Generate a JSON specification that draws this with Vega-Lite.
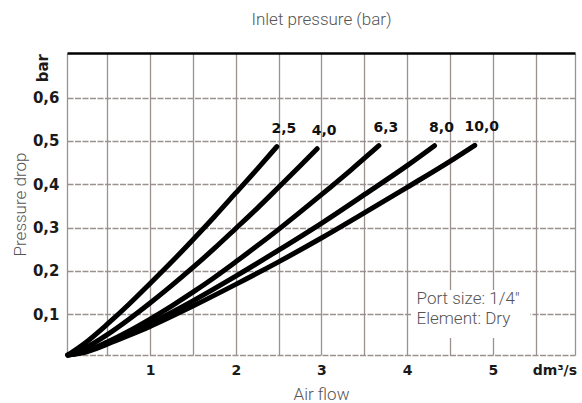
{
  "$schema": "https://vega.github.io/schema/vega-lite/v6.json",
  "width": 508,
  "height": 302,
  "autosize": {"type": "none"},
  "padding": {"left": 67, "top": 53, "right": 7, "bottom": 48},
  "background": "white",
  "config": {"view": {"stroke": null}, "axis": {"ticks": false, "domain": false}},
  "datasets": {
    "curves": [
      {"inlet": "2,5", "airflow": 0.04, "drop": 0.006},
      {"inlet": "2,5", "airflow": 0.25, "drop": 0.035},
      {"inlet": "2,5", "airflow": 0.5, "drop": 0.077},
      {"inlet": "2,5", "airflow": 0.75, "drop": 0.1225},
      {"inlet": "2,5", "airflow": 1.0, "drop": 0.171},
      {"inlet": "2,5", "airflow": 1.25, "drop": 0.2205},
      {"inlet": "2,5", "airflow": 1.5, "drop": 0.272},
      {"inlet": "2,5", "airflow": 1.75, "drop": 0.325},
      {"inlet": "2,5", "airflow": 2.0, "drop": 0.38},
      {"inlet": "2,5", "airflow": 2.25, "drop": 0.435},
      {"inlet": "2,5", "airflow": 2.48, "drop": 0.487},
      {"inlet": "4,0", "airflow": 0.04, "drop": 0.006},
      {"inlet": "4,0", "airflow": 0.25, "drop": 0.023},
      {"inlet": "4,0", "airflow": 0.5, "drop": 0.053},
      {"inlet": "4,0", "airflow": 0.75, "drop": 0.088},
      {"inlet": "4,0", "airflow": 1.0, "drop": 0.126},
      {"inlet": "4,0", "airflow": 1.25, "drop": 0.166},
      {"inlet": "4,0", "airflow": 1.5, "drop": 0.208},
      {"inlet": "4,0", "airflow": 1.75, "drop": 0.252},
      {"inlet": "4,0", "airflow": 2.0, "drop": 0.298},
      {"inlet": "4,0", "airflow": 2.25, "drop": 0.3445},
      {"inlet": "4,0", "airflow": 2.5, "drop": 0.393},
      {"inlet": "4,0", "airflow": 2.75, "drop": 0.442},
      {"inlet": "4,0", "airflow": 2.95, "drop": 0.482},
      {"inlet": "6,3", "airflow": 0.04, "drop": 0.006},
      {"inlet": "6,3", "airflow": 0.25, "drop": 0.015},
      {"inlet": "6,3", "airflow": 0.5, "drop": 0.036},
      {"inlet": "6,3", "airflow": 0.75, "drop": 0.061},
      {"inlet": "6,3", "airflow": 1.0, "drop": 0.089},
      {"inlet": "6,3", "airflow": 1.25, "drop": 0.119},
      {"inlet": "6,3", "airflow": 1.5, "drop": 0.151},
      {"inlet": "6,3", "airflow": 1.75, "drop": 0.185},
      {"inlet": "6,3", "airflow": 2.0, "drop": 0.221},
      {"inlet": "6,3", "airflow": 2.5, "drop": 0.296},
      {"inlet": "6,3", "airflow": 3.0, "drop": 0.376},
      {"inlet": "6,3", "airflow": 3.35, "drop": 0.434},
      {"inlet": "6,3", "airflow": 3.67, "drop": 0.489},
      {"inlet": "8,0", "airflow": 0.04, "drop": 0.006},
      {"inlet": "8,0", "airflow": 0.25, "drop": 0.014},
      {"inlet": "8,0", "airflow": 0.5, "drop": 0.034},
      {"inlet": "8,0", "airflow": 0.75, "drop": 0.0556},
      {"inlet": "8,0", "airflow": 1.0, "drop": 0.079},
      {"inlet": "8,0", "airflow": 1.5, "drop": 0.131},
      {"inlet": "8,0", "airflow": 2.0, "drop": 0.188},
      {"inlet": "8,0", "airflow": 2.5, "drop": 0.248},
      {"inlet": "8,0", "airflow": 3.0, "drop": 0.31},
      {"inlet": "8,0", "airflow": 3.5, "drop": 0.376},
      {"inlet": "8,0", "airflow": 4.0, "drop": 0.443},
      {"inlet": "8,0", "airflow": 4.32, "drop": 0.489},
      {"inlet": "10,0", "airflow": 0.04, "drop": 0.006},
      {"inlet": "10,0", "airflow": 0.25, "drop": 0.013},
      {"inlet": "10,0", "airflow": 0.5, "drop": 0.031},
      {"inlet": "10,0", "airflow": 0.75, "drop": 0.051},
      {"inlet": "10,0", "airflow": 1.0, "drop": 0.072},
      {"inlet": "10,0", "airflow": 1.5, "drop": 0.119},
      {"inlet": "10,0", "airflow": 2.0, "drop": 0.169},
      {"inlet": "10,0", "airflow": 2.5, "drop": 0.221},
      {"inlet": "10,0", "airflow": 3.0, "drop": 0.276},
      {"inlet": "10,0", "airflow": 3.5, "drop": 0.334},
      {"inlet": "10,0", "airflow": 4.0, "drop": 0.393},
      {"inlet": "10,0", "airflow": 4.5, "drop": 0.453},
      {"inlet": "10,0", "airflow": 4.79, "drop": 0.49}
    ],
    "ends": [
      {"inlet": "2,5", "airflow": 2.48, "drop": 0.487},
      {"inlet": "4,0", "airflow": 2.95, "drop": 0.482},
      {"inlet": "6,3", "airflow": 3.67, "drop": 0.489},
      {"inlet": "8,0", "airflow": 4.32, "drop": 0.489},
      {"inlet": "10,0", "airflow": 4.79, "drop": 0.49}
    ]
  },
  "layer": [
    {
      "data": {"values": [{}]},
      "mark": {"type": "rect", "color": "white"},
      "encoding": {
        "x": {"datum": 4.05, "type": "quantitative", "scale": {"domain": [0.03, 5.96], "nice": false, "zero": false}, "axis": null},
        "x2": {"datum": 5.44},
        "y": {"datum": 0.156, "type": "quantitative", "scale": {"domain": [0.006, 0.703], "nice": false, "zero": false}, "axis": null},
        "y2": {"datum": 0.045}
      }
    },
    {
      "data": {"name": "curves"},
      "mark": {"type": "line", "color": "black", "strokeWidth": 5, "strokeCap": "round", "strokeJoin": "round", "interpolate": "monotone"},
      "encoding": {
        "x": {
          "field": "airflow", "type": "quantitative",
          "scale": {"domain": [0.03, 5.96], "nice": false, "zero": false},
          "axis": {
            "orient": "bottom",
            "values": [1, 2, 3, 4, 5, 5.72],
            "labelExpr": "datum.value > 5.5 ? 'dm³/s' : datum.label",
            "grid": false,
            "labelFont": "DejaVu Sans", "labelFontWeight": "bold", "labelFontSize": 14,
            "labelColor": "#1a1a1a", "labelPadding": 8, "labelFlush": false, "labelOverlap": false,
            "title": "Air flow", "titleFont": "Roboto", "titleFontWeight": 300, "titleFontSize": 17,
            "titleColor": "#555555", "titleBaseline": "alphabetic", "titleY": 44
          }
        },
        "y": {
          "field": "drop", "type": "quantitative",
          "scale": {"domain": [0.006, 0.703], "nice": false, "zero": false},
          "axis": {
            "orient": "left",
            "values": [0.006, 0.1, 0.2, 0.3, 0.4, 0.5, 0.6],
            "labelExpr": "datum.value < 0.05 ? '' : replace(format(datum.value, '.1f'), '.', ',')",
            "grid": true, "gridColor": "#9b918f", "gridWidth": 1.3, "gridDash": [6, 1.5],
            "labelFont": "DejaVu Sans", "labelFontWeight": "bold", "labelFontSize": 15,
            "labelColor": "#1a1a1a", "labelPadding": 8,
            "title": "Pressure drop", "titleFont": "Roboto", "titleFontWeight": 300, "titleFontSize": 17,
            "titleColor": "#555555", "titleBaseline": "alphabetic", "titleX": -42
          }
        },
        "detail": {"field": "inlet"}
      }
    },
    {
      "data": {"name": "ends"},
      "mark": {"type": "text", "font": "DejaVu Sans", "fontWeight": "bold", "fontSize": 14, "color": "#111111", "dx": 7, "dy": -14, "baseline": "alphabetic", "align": "center"},
      "encoding": {
        "x": {
          "field": "airflow", "type": "quantitative",
          "scale": {"domain": [0.03, 5.96], "nice": false, "zero": false},
          "axis": {
            "orient": "top",
            "values": [0.03, 0.5, 1, 1.5, 2, 2.5, 3, 3.5, 4, 4.5, 5, 5.5, 5.96],
            "labels": false,
            "grid": true, "gridColor": "#9b918f", "gridWidth": 1.3,
            "domain": true, "domainColor": "#000000", "domainWidth": 2.5,
            "title": "Inlet pressure (bar)", "titleFont": "Roboto", "titleFontWeight": 300, "titleFontSize": 17,
            "titleColor": "#555555", "titleBaseline": "alphabetic", "titleY": -29
          }
        },
        "y": {"field": "drop", "type": "quantitative", "scale": {"domain": [0.006, 0.703], "nice": false, "zero": false}, "axis": null},
        "text": {"field": "inlet"}
      }
    },
    {
      "data": {"values": [{}]},
      "mark": {"type": "text", "text": ["Port size: 1/4″", "Element: Dry"], "font": "Roboto", "fontWeight": 300, "fontSize": 17, "color": "#555555", "align": "left", "baseline": "alphabetic", "lineHeight": 20},
      "encoding": {
        "x": {"datum": 4.11, "type": "quantitative", "scale": {"domain": [0.03, 5.96], "nice": false, "zero": false}, "axis": null},
        "y": {"datum": 0.124, "type": "quantitative", "scale": {"domain": [0.006, 0.703], "nice": false, "zero": false}, "axis": null}
      }
    },
    {
      "data": {"values": [{}]},
      "mark": {"type": "text", "text": "bar", "font": "DejaVu Sans", "fontWeight": "bold", "fontSize": 15, "color": "#1a1a1a", "angle": 270, "align": "center", "baseline": "middle"},
      "encoding": {
        "x": {"datum": -0.25, "type": "quantitative", "scale": {"domain": [0.03, 5.96], "nice": false, "zero": false}, "axis": null},
        "y": {"datum": 0.668, "type": "quantitative", "scale": {"domain": [0.006, 0.703], "nice": false, "zero": false}, "axis": null}
      }
    }
  ],
  "resolve": {"axis": {"x": "independent", "y": "independent"}}
}
